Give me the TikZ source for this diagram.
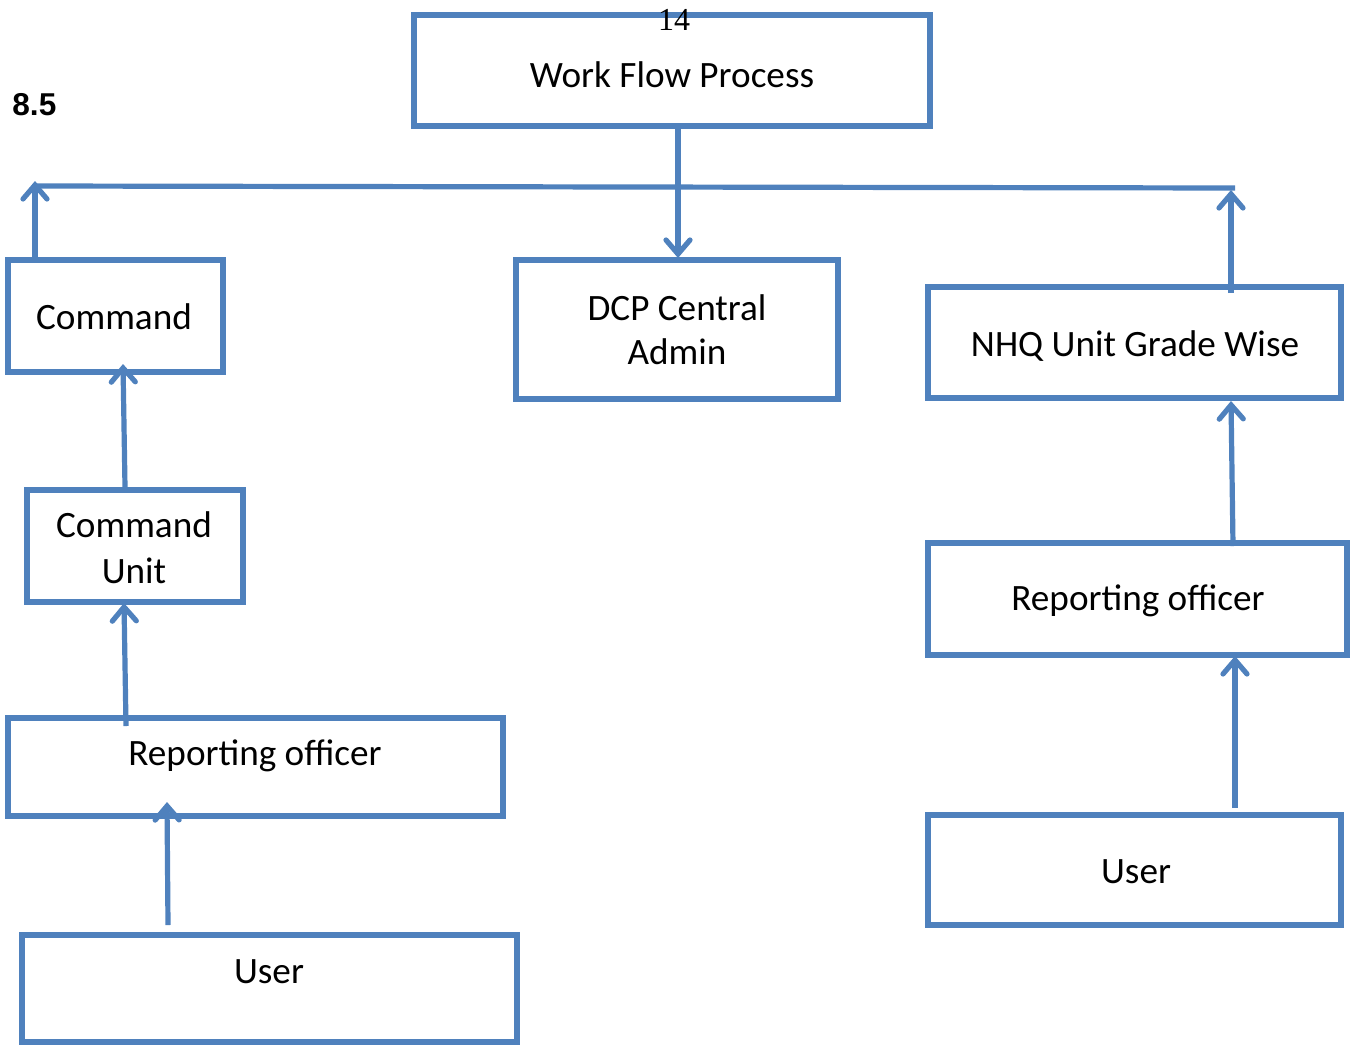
\documentclass[tikz,border=0pt]{standalone}
\usepackage{fontspec}
\setmainfont{Carlito}
\newfontfamily\arialfont{Liberation Sans}
\newfontfamily\timesfont{Liberation Serif}
\usetikzlibrary{arrows.meta}
\definecolor{boxblue}{RGB}{79,129,189}
\begin{document}
\begin{tikzpicture}[x=0.5pt,y=-0.5pt,
  box/.style={draw=boxblue,line width=2.6pt,rectangle,inner sep=0pt},
  lbl/.style={anchor=base,inner sep=0pt,font=\fontsize{18.6}{22}\selectfont},
  conn/.style={draw=boxblue,line width=2.6pt},
  arr/.style={conn,-{Straight Barb[length=7pt,width=12pt,line cap=round]}}]
\useasboundingbox (0,0) rectangle (1352,1044);
% boxes
\node[box,minimum width=258pt,minimum height=55.5pt] (wfp) at (672,70.5) {};
\node[box,minimum width=107.5pt,minimum height=56pt] (cmd) at (115.5,316) {};
\node[box,minimum width=161pt,minimum height=69.5pt] (dcp) at (677,329.5) {};
\node[box,minimum width=206.5pt,minimum height=55.5pt] (nhq) at (1134.5,342.5) {};
\node[box,minimum width=108pt,minimum height=56pt] (cu) at (135,546) {};
\node[box,minimum width=247.5pt,minimum height=49pt] (rol) at (255.5,767) {};
\node[box,minimum width=247.5pt,minimum height=53.5pt] (usl) at (269.5,988.5) {};
\node[box,minimum width=209.5pt,minimum height=56pt] (ror) at (1137.5,599) {};
\node[box,minimum width=206.5pt,minimum height=55pt] (usr) at (1134.5,870) {};
% texts
\node[lbl] (twfp) at (672,87) {Work Flow Process};
\node[anchor=base,inner sep=0pt,font=\timesfont\fontsize{16}{18}\selectfont] (page) at (674,30) {14};
\node[anchor=base west,inner sep=0pt,font=\arialfont\bfseries\fontsize{15.8}{18}\selectfont] (sec) at (12,115) {8.5};
\node[lbl] (tcmd) at (114,329) {Command};
\node[lbl] (tcu1) at (134,537) {Command};
\node[lbl] (tcu2) at (134,583) {Unit};
\node[lbl] (tdcp1) at (677,320) {DCP Central};
\node[lbl] (tdcp2) at (677,364) {Admin};
\node[lbl] (tnhq) at (1135,356) {NHQ Unit Grade Wise};
\node[lbl] (tror) at (1138,610) {Reporting officer};
\node[lbl] (trol) at (255,765) {Reporting officer};
\node[lbl] (tusl) at (269,983) {User};
\node[lbl] (tusr) at (1136,883) {User};
% connector coordinates
\coordinate (hl) at (35,186);
\coordinate (hr) at (1235,188);
\coordinate (wfpout) at (678,126);
\coordinate (dcpin) at (678,258);
\coordinate (cmdout) at (35,260);
\coordinate (cmdtip) at (35,181);
\coordinate (nhqout) at (1231,293);
\coordinate (nhqtip) at (1231,190);
\coordinate (cuout) at (125,487);
\coordinate (cmdin) at (123,364);
\coordinate (rolout) at (126,726);
\coordinate (cuin) at (124,603);
\coordinate (uslout) at (168,925);
\coordinate (rolin) at (167,802);
\coordinate (rorout) at (1233,546);
\coordinate (nhqin) at (1231,401);
\coordinate (usrout) at (1235,808);
\coordinate (rorin) at (1235,656);
% connectors
\draw[conn] (hl) -- (hr);
\draw[arr] (wfpout) -- (dcpin);
\draw[arr] (cmdout) -- (cmdtip);
\draw[arr] (nhqout) -- (nhqtip);
\draw[arr] (cuout) -- (cmdin);
\draw[arr] (rolout) -- (cuin);
\draw[arr] (uslout) -- (rolin);
\draw[arr] (rorout) -- (nhqin);
\draw[arr] (usrout) -- (rorin);
\end{tikzpicture}
\end{document}
